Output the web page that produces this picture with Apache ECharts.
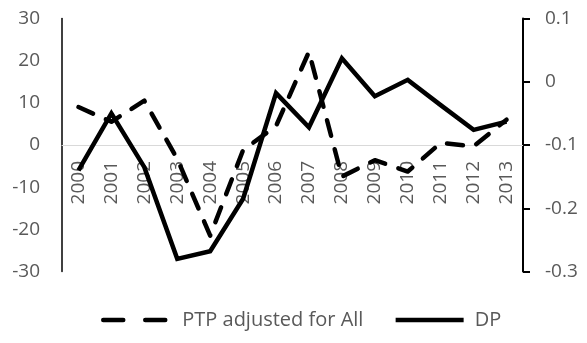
<!DOCTYPE html>
<html>
<head>
<meta charset="utf-8">
<script src="https://cdn.jsdelivr.net/npm/echarts@6/dist/echarts.min.js"></script>
<style>
html,body{margin:0;padding:0;background:#fff;}
#c{width:587px;height:343px;}
</style>
</head>
<body>
<div id="c"></div>
<script>
var categories = ['2000','2001','2002','2003','2004','2005','2006','2007','2008','2009','2010','2011','2012','2013'];
var ptpValues = [9.0, 5.5, 10.5, -3.3, -21.5, -1.2, 4.5, 22.1, -7.5, -3.6, -6.3, 0.5, -0.3, 6.0];
var dpValues = [-0.14, -0.05, -0.135, -0.28, -0.268, -0.185, -0.018, -0.072, 0.037, -0.023, 0.003, -0.037, -0.076, -0.063];
var leftTicks = {min: -30, max: 30, interval: 10};
var rightTicks = {min: -0.3, max: 0.1, interval: 0.1};

var FONT = 'Open Sans';
var GRAY = '#595959';
var chart = echarts.init(document.getElementById('c'), null, {renderer: 'canvas'});
chart.setOption({
  animation: false,
  backgroundColor: '#fff',
  grid: {left: 62, right: 64, top: 18.5, bottom: 71.5, containLabel: false},
  legend: {
    bottom: 8,
    left: 96,
    itemWidth: 68,
    itemHeight: 8,
    itemGap: 30,
    textStyle: {color: GRAY, fontFamily: FONT, fontSize: 20, padding: [0, 0, 0, 6]},
    data: [
      {name: 'PTP adjusted for All', itemStyle: {opacity: 0}, lineStyle: {type: [20, 22], width: 4.5, cap: 'round', color: '#000'}},
      {name: 'DP', itemStyle: {opacity: 0}, lineStyle: {type: 'solid', width: 4.5, color: '#000'}}
    ]
  },
  xAxis: {
    type: 'category',
    data: categories,
    boundaryGap: true,
    offset: -126.5,
    axisLine: {show: true, onZero: false, lineStyle: {color: '#d9d9d9', width: 1}},
    axisTick: {show: false},
    axisLabel: {rotate: 90, margin: 16, color: GRAY, fontFamily: FONT, fontSize: 19, interval: 0}
  },
  yAxis: [
    {
      type: 'value', position: 'left',
      min: leftTicks.min, max: leftTicks.max, interval: leftTicks.interval,
      axisLine: {show: true, lineStyle: {color: '#000', width: 1.5}},
      axisTick: {show: false},
      splitLine: {show: false},
      axisLabel: {margin: 22, color: GRAY, fontFamily: FONT, fontSize: 19}
    },
    {
      type: 'value', position: 'right',
      min: rightTicks.min, max: rightTicks.max, interval: rightTicks.interval,
      axisLine: {show: true, lineStyle: {color: '#000', width: 2}},
      axisTick: {show: true, inside: false, length: 7, lineStyle: {color: '#000', width: 2}},
      splitLine: {show: false},
      axisLabel: {margin: 22, color: GRAY, fontFamily: FONT, fontSize: 19,
        formatter: function (v) { var s = String(+(+v).toFixed(1)); return s === '-0' ? '0' : s; }}
    }
  ],
  series: [
    {
      name: 'PTP adjusted for All', type: 'line', yAxisIndex: 0,
      data: ptpValues, symbol: 'none', smooth: false,
      lineStyle: {color: '#000', width: 4.5, type: [16, 14], cap: 'round', join: 'round'},
      itemStyle: {color: '#000'}
    },
    {
      name: 'DP', type: 'line', yAxisIndex: 1,
      data: dpValues, symbol: 'none', smooth: false,
      lineStyle: {color: '#000', width: 4.5, type: 'solid', join: 'miter'},
      itemStyle: {color: '#000'}
    }
  ]
});
</script>
</body>
</html>
